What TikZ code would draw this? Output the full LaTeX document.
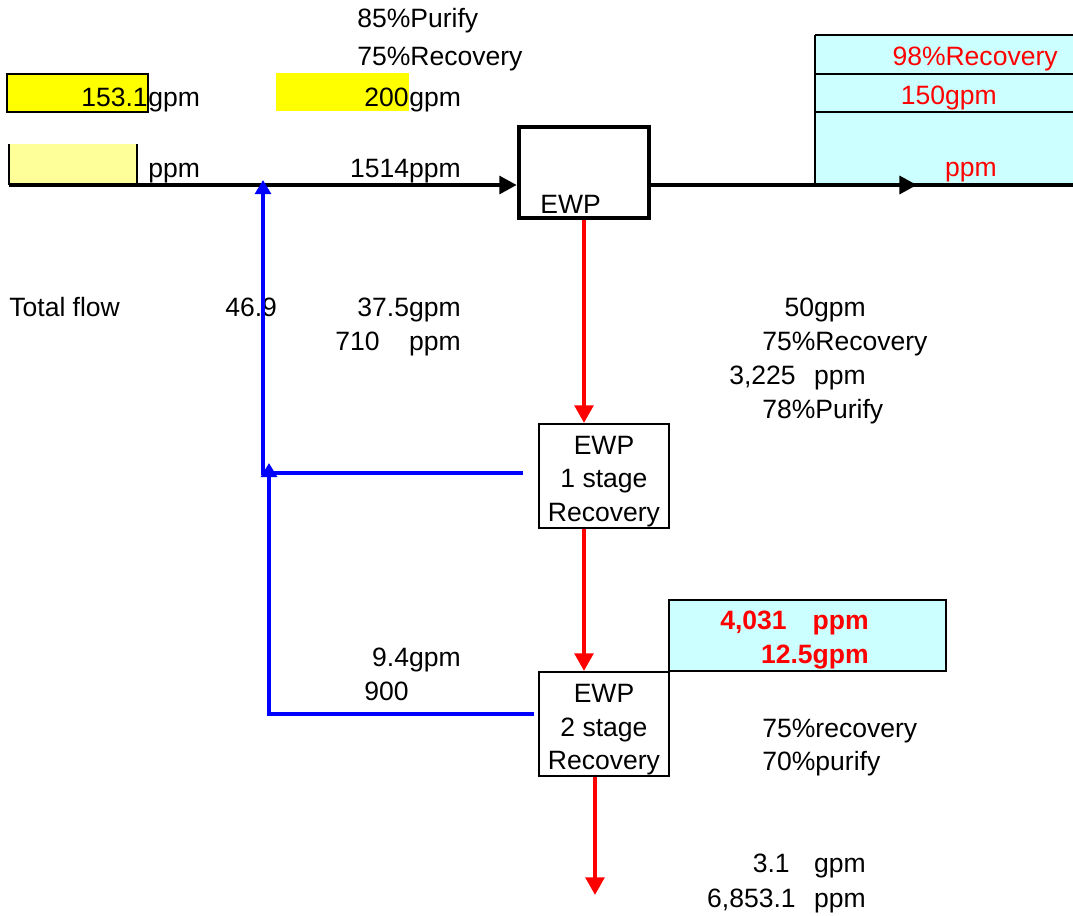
\documentclass[tikz,border=0pt]{standalone}
\usepackage{fontspec}
\setmainfont{Liberation Sans}
\usetikzlibrary{arrows.meta}
\usetikzlibrary{positioning}

\definecolor{cellyellow}{HTML}{FFFF00}
\definecolor{paleyellow}{HTML}{FFFF99}
\definecolor{cellcyan}{HTML}{CCFFFF}

\tikzset{
  txt/.style={inner sep=0pt, font=\fontsize{15.1}{19.3}\selectfont},
  lbl/.style={txt, anchor=base west},
  rlbl/.style={txt, anchor=base east},
  redlbl/.style={rlbl, text=red},
  boldred/.style={rlbl, text=red, font=\fontsize{15.1}{19.3}\selectfont\bfseries},
  stagebox/.style={draw, line width=1.2pt, minimum width=2.6cm, minimum height=2.08cm, inner sep=0pt},
  stagetxt/.style={txt, align=center, yshift=-3.2pt},
  mainline/.style={line width=2.6pt, -{Triangle[length=10pt, width=10pt]}},
  rejline/.style={red, line width=2.3pt, -{Triangle[length=10pt, width=10.5pt]}},
  returnline/.style={blue, line width=2.3pt, -{Triangle[length=8pt, width=9pt]}},
  gridline/.style={line width=1.2pt}
}

\begin{document}
\begin{tikzpicture}[x=0.02cm, y=-0.02cm]
  \useasboundingbox (0,0) rectangle (1073,916);

  % cells
  \fill[cellcyan] (815,35) rectangle (1073,184);
  \foreach \y in {35,74,112} {
    \draw[gridline] (815,\y) -- (1073,\y);
  }
  \draw[line width=1.5pt] (815,35) -- (815,185);
  \draw[line width=2.6pt] (815,185) -- (1073,185);
  \draw[fill=cellcyan, line width=1.7pt] (669,600) rectangle (946,671);
  \draw[fill=cellyellow, line width=1.7pt] (7,74) rectangle (148,112);
  \fill[cellyellow] (276,73) rectangle (409,111);
  \fill[paleyellow] (9,144) rectangle (137,184);
  \draw[line width=1.7pt] (9,144) -- (9,185);
  \draw[line width=1.7pt] (137,144) -- (137,185);

  % units
  \node[draw, line width=2.5pt, minimum width=2.6cm, minimum height=1.82cm, inner sep=0pt]
    (ewp) at (584,172.5) {};
  \node[lbl] (ewptxt) at (540,213) {EWP};
  \node[stagebox, label={[stagetxt]center:EWP\\1 stage\\Recovery}] (rec1) at (604,476) {};
  \node[stagebox, label={[stagetxt]center:EWP\\2 stage\\Recovery}] (rec2) at (604,724) {};

  % texts
  \foreach \nm/\x/\y/\txt in {purify/357/28/85\%Purify, recov/357/66/75\%Recovery,
      feedgpm/148/106/gpm, designgpm/409/106/gpm, feedppm/148/177/ppm,
      totflow/9/316/Total flow, totval/225/316/46.9,
      rejrec/762/350/75\%Recovery, rejpur/762/418/78\%Purify,
      st2rec/762/737/75\%recovery, st2pur/762/770/70\%purify} {
    \node[lbl] (\nm) at (\x,\y) {\txt};
  }
  \foreach \nm/\x/\y/\txt in {feedflow/148/106/153.1, designflow/409/106/200,
      mixppm/461/177/1514ppm, ret1flow/461/316/37.5gpm,
      ret1conc/380/350/710, ret1ppm/461/350/ppm,
      rejflow/866/316/50gpm, rejconc/796/384/{3,225}, rejppm/866/384/ppm,
      ret2flow/461/666/9.4gpm, ret2conc/409/700/900,
      drainflow/790/872/3.1, draingpm/866/872/gpm,
      drainconc/796/907/{6,853.1}, drainppm/866/907/ppm} {
    \node[rlbl] (\nm) at (\x,\y) {\txt};
  }
  \node[redlbl] (prodrec) at (1058,66) {98\%Recovery};
  \node[redlbl] (prodflow) at (997,104) {150gpm};
  \node[redlbl] (prodppm) at (997,176) {ppm};
  \node[boldred] (st2conc) at (787,629) {4,031};
  \node[boldred] (st2ppm) at (869,629) {ppm};
  \node[boldred] (st2flow) at (869,663) {12.5gpm};

  % flows
  \coordinate (inlet) at (9,185);
  \coordinate (outlet) at (917,185);
  \coordinate (mix) at (263,180);
  \coordinate (ret1) at (523,473);
  \coordinate (join) at (269,463);
  \coordinate (ret2) at (534,714);
  \coordinate (drain) at (595,895);
  \draw[mainline] (inlet) -- (inlet -| ewp.west);
  \draw[mainline] (ewp.east |- inlet) -- (outlet);
  \draw[rejline] (ewp.south) -- (ewp.south |- rec1.north);
  \draw[rejline] (rec1.south -| ewp.south) -- (rec2.north -| ewp.south);
  \draw[rejline] (rec2.south -| drain) -- (drain);
  \draw[returnline] (ret1) -- (ret1 -| mix) -- (mix);
  \draw[returnline] (ret2) -- (ret2 -| join) -- (join);
\end{tikzpicture}
\end{document}
